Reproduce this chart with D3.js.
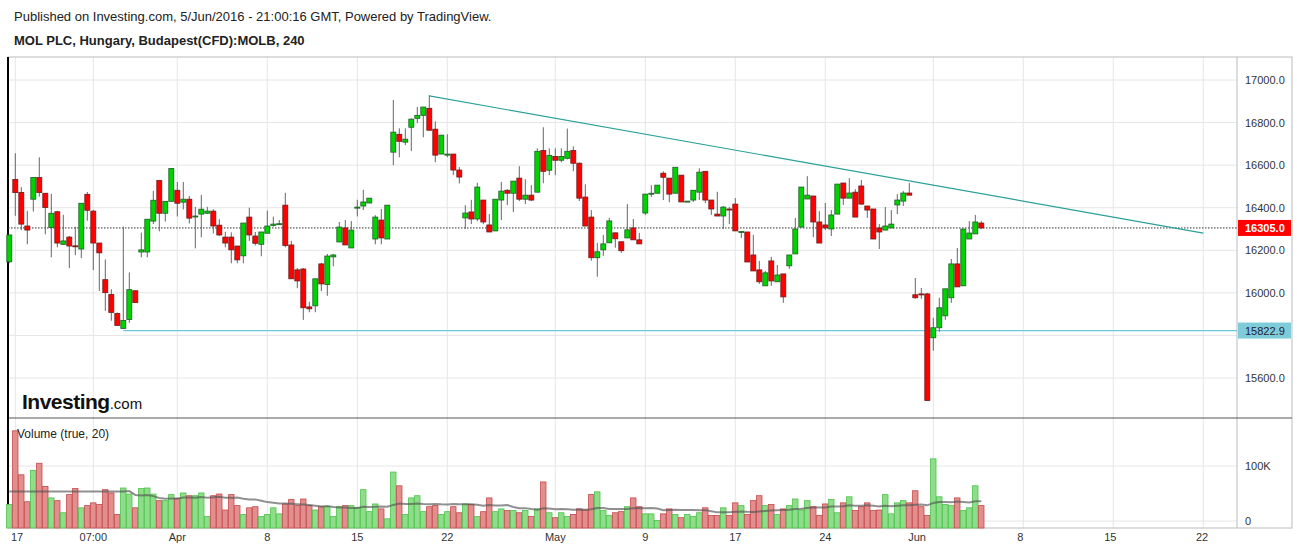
<!DOCTYPE html>
<html><head><meta charset="utf-8">
<script src="https://cdn.jsdelivr.net/npm/d3@7"></script>
<style>body{margin:0;background:#fff;font-family:"Liberation Sans",Arial,sans-serif}</style>
</head><body><svg id="c" width="1297" height="552"></svg>
<script>
const opens=[16146,16533,16472,16314,16440,16542,16468,16307,16381,16228,16262,16221,16206,16463,16384,16234,16062,15992,15903,15833,15875,16010,16192,16192,16337,16528,16374,16430,16482,16426,16440,16358,16370,16374,16384,16318,16262,16262,16220,16174,16356,16267,16228,16280,16317,16323,16412,16225,16108,16112,15934,15939,16136,16039,16169,16239,16305,16211,16398,16408,16422,16253,16342,16253,16661,16745,16708,16778,16820,16834,16867,16769,16652,16647,16652,16577,16352,16380,16347,16436,16319,16291,16436,16482,16468,16539,16440,16459,16473,16669,16576,16641,16623,16632,16669,16609,16450,16356,16165,16202,16235,16282,16240,16258,16305,16249,16375,16464,16468,16562,16539,16468,16553,16427,16436,16473,16571,16436,16370,16361,16394,16417,16286,16286,16178,16108,16033,16150,16052,16089,16127,16183,16309,16441,16455,16333,16319,16300,16370,16516,16445,16473,16502,16408,16394,16305,16295,16305,16413,16431,16469,15991,15995,15995,15789,15836,15892,15977,16136,16033,16253,16277,16328];
const closes=[16272,16471,16323,16295,16542,16471,16401,16374,16234,16244,16220,16219,16421,16388,16234,16188,16001,15908,15847,15870,16015,15954,16202,16346,16435,16374,16430,16584,16421,16440,16351,16361,16393,16384,16314,16272,16234,16202,16155,16328,16272,16233,16286,16314,16323,16325,16223,16066,16056,15930,15925,16066,16042,16173,16178,16309,16225,16295,16403,16427,16445,16356,16258,16412,16755,16712,16722,16816,16834,16873,16764,16647,16741,16652,16577,16544,16375,16347,16497,16333,16286,16440,16478,16468,16525,16440,16459,16436,16665,16571,16646,16623,16641,16665,16609,16445,16314,16165,16193,16230,16338,16254,16198,16296,16249,16230,16464,16468,16506,16543,16464,16590,16427,16431,16482,16567,16436,16394,16361,16403,16389,16291,16288,16145,16103,16052,16094,16056,16084,15981,16178,16300,16497,16459,16333,16234,16305,16366,16511,16445,16469,16356,16417,16389,16253,16286,16314,16323,16436,16469,16459,15977,15993,15494,15836,15930,16019,16136,16028,16300,16281,16333,16305];
const highs=[16272,16656,16497,16385,16542,16637,16468,16465,16385,16367,16267,16311,16421,16474,16390,16234,16157,16017,15908,16311,16096,16010,16283,16346,16479,16528,16430,16584,16521,16521,16455,16404,16460,16404,16393,16346,16287,16284,16220,16328,16400,16286,16286,16386,16358,16342,16470,16244,16117,16117,15958,16066,16141,16183,16183,16333,16342,16337,16437,16484,16445,16365,16394,16412,16906,16773,16773,16820,16873,16873,16928,16806,16741,16745,16652,16591,16412,16437,16517,16436,16370,16440,16521,16487,16525,16595,16534,16506,16679,16778,16679,16679,16679,16772,16688,16613,16510,16389,16235,16272,16352,16282,16240,16417,16347,16282,16464,16506,16506,16571,16539,16590,16553,16431,16482,16585,16571,16436,16475,16408,16403,16445,16291,16286,16272,16150,16103,16169,16131,16089,16178,16352,16497,16548,16455,16384,16422,16389,16511,16516,16539,16487,16530,16408,16394,16323,16403,16389,16464,16478,16516,16070,16023,16000,15883,15977,16019,16159,16211,16300,16337,16366,16337];
const lows=[16140,16362,16295,16228,16382,16452,16275,16167,16214,16225,16116,16177,16163,16339,16107,16009,15915,15869,15847,15833,15859,15954,16167,16167,16323,16289,16335,16430,16359,16392,16326,16209,16261,16370,16279,16267,16214,16139,16139,16139,16244,16223,16172,16280,16311,16320,16214,16066,16022,15873,15909,15909,16008,15986,16125,16239,16225,16211,16359,16389,16422,16228,16228,16253,16600,16637,16694,16666,16797,16731,16764,16614,16652,16637,16553,16514,16300,16323,16337,16323,16286,16291,16342,16412,16380,16431,16417,16431,16473,16515,16553,16553,16613,16627,16571,16431,16314,16151,16076,16174,16235,16212,16188,16258,16249,16230,16366,16450,16468,16436,16426,16468,16427,16427,16427,16436,16422,16366,16361,16300,16323,16291,16258,16145,16103,16042,16033,16033,16052,15953,16113,16183,16309,16441,16262,16234,16295,16267,16370,16413,16445,16356,16413,16352,16253,16206,16295,16305,16370,16408,16459,15972,15972,15494,15728,15817,15873,15953,16028,16033,16253,16277,16300];
const volumes=[30,164,84,35,92,105,63,42,37,15,48,59,24,28,33,30,57,51,12,60,49,24,59,60,49,37,37,48,41,51,46,46,51,8,46,49,20,48,28,12,24,26,8,12,24,13,31,39,28,40,28,20,26,26,8,26,28,28,24,57,17,31,22,4,89,64,12,42,46,17,26,28,12,17,26,15,31,30,8,17,42,17,22,19,19,15,19,8,22,71,15,6,15,8,12,22,20,48,53,19,10,15,17,26,42,26,13,13,1,13,22,12,6,12,8,15,24,10,10,24,10,33,28,12,37,46,28,30,12,22,28,40,20,37,26,10,31,39,15,33,44,19,26,33,19,20,48,13,33,37,33,55,26,10,113,44,30,28,42,19,24,64,28];
const gridIdx=[1,14,28,43,58,73,91,106,121,136,154,169,184,199];
const tickIdx=[1.3,14,28,43,58,73,91,106,121,136,151.3,168.5,183.5,198.8];
const tickLabels=["17","07:00","Apr","8","15","22","May","9","17","24","Jun","8","15","22"];
const priceTicks=[15600,15800,16000,16200,16400,16600,16800,17000];
const volTicks=[0,100];
const lastPrice=16305.0, supportLevel=15822.9;
const trendFrom=[70,16925], trendTo=[199,16281];

const svg=d3.select("#c");
const L=8,R=1237,T=57,MB=418,VB=528;
const x=d3.scaleLinear().domain([0,162]).range([9.3,981.3]);
const y=d3.scaleLinear().domain([15600,17000]).range([378,80]);
const yv=d3.scaleLinear().domain([0,100]).range([521,466]);

svg.append("text").attr("x",14).attr("y",21).attr("font-size",13).attr("fill","#222").text("Published on Investing.com, 5/Jun/2016 - 21:00:16 GMT, Powered by TradingView.");
svg.append("text").attr("x",14).attr("y",45).attr("font-size",13).attr("font-weight","bold").attr("fill","#222").text("MOL PLC, Hungary, Budapest(CFD):MOLB, 240");

const g=svg.append("g");
g.selectAll(".vg").data(gridIdx).join("line").attr("x1",d=>x(d)).attr("x2",d=>x(d)).attr("y1",T).attr("y2",VB).attr("stroke","#e6e6e6");
g.selectAll(".hg").data(priceTicks).join("line").attr("x1",L).attr("x2",R).attr("y1",d=>y(d)).attr("y2",d=>y(d)).attr("stroke","#e6e6e6");
g.selectAll(".hv").data(volTicks).join("line").attr("x1",L).attr("x2",R).attr("y1",d=>yv(d)).attr("y2",d=>yv(d)).attr("stroke","#e6e6e6");
g.append("rect").attr("x",L).attr("y",T).attr("width",1292-L).attr("height",VB-T).attr("fill","none").attr("stroke","#bbb");
g.append("line").attr("x1",R).attr("x2",R).attr("y1",T).attr("y2",VB).attr("stroke","#bbb");
g.append("line").attr("x1",L).attr("x2",1292).attr("y1",MB).attr("y2",MB).attr("stroke","#555");
g.append("line").attr("x1",L).attr("x2",L).attr("y1",T).attr("y2",VB).attr("stroke","#000").attr("stroke-width",2);

const lg=svg.append("text").attr("x",22).attr("y",409).attr("fill","#111");
lg.append("tspan").attr("font-size",21).attr("font-weight","bold").attr("letter-spacing",-0.5).text("Investing");
lg.append("tspan").attr("font-size",15).text(".com");

g.append("line").attr("x1",x(19)).attr("x2",R).attr("y1",y(supportLevel)).attr("y2",y(supportLevel)).attr("stroke","#6cc8d8").attr("stroke-width",1.2);
g.append("line").attr("x1",L).attr("x2",R).attr("y1",y(lastPrice)).attr("y2",y(lastPrice)).attr("stroke","#333").attr("stroke-dasharray","1.5,1.5");
g.append("line").attr("x1",x(trendFrom[0])).attr("y1",y(trendFrom[1])).attr("x2",x(trendTo[0])).attr("y2",y(trendTo[1])).attr("stroke","#2aa198").attr("stroke-width",1.2);

const idx=d3.range(opens.length);
const up=i=>closes[i]>=opens[i];
g.selectAll(".wk").data(idx).join("line").attr("x1",i=>x(i)).attr("x2",i=>x(i)).attr("y1",i=>y(highs[i])).attr("y2",i=>y(lows[i])).attr("stroke","#666");
g.selectAll(".bd").data(idx).join("rect").attr("x",i=>x(i)-2.5).attr("width",5)
 .attr("y",i=>y(Math.max(opens[i],closes[i]))).attr("height",i=>Math.max(1,Math.abs(y(opens[i])-y(closes[i]))))
 .attr("fill",i=>up(i)?"#00d200":"#ff0000").attr("stroke",i=>up(i)?"#1f5e2a":"#6b1e1e").attr("stroke-width",0.8);

g.selectAll(".vb").data(idx).join("rect").attr("x",i=>x(i)-2.7).attr("width",5.4)
 .attr("y",i=>yv(volumes[i])).attr("height",i=>yv(0)+7-yv(volumes[i]))
 .attr("fill",i=>up(i)?"#8fdc8a":"#e08e8e").attr("stroke",i=>up(i)?"#4cc44a":"#c84a4a").attr("stroke-width",0.8);
const ma=idx.map(i=>{const s=volumes.slice(Math.max(0,i-19),Math.max(i+1,20));return d3.mean(s);});
g.append("path").attr("d",d3.line().x(i=>x(i)).y(i=>yv(ma[i]))(idx)).attr("fill","none").attr("stroke","#555").attr("stroke-width",2).attr("opacity",0.65);
svg.append("text").attr("x",17).attr("y",438).attr("font-size",12).attr("fill","#222").text("Volume (true, 20)");

svg.selectAll(".pt").data(priceTicks.filter(d=>Math.abs(y(d)-y(supportLevel))>12)).join("text").attr("x",1245).attr("y",d=>y(d)+4).attr("font-size",11).attr("fill","#333").text(d=>d.toFixed(1));
svg.selectAll(".vt").data(volTicks).join("text").attr("x",1245).attr("y",d=>yv(d)+4).attr("font-size",11).attr("fill","#333").text(d=>d?d+"K":"0");
svg.selectAll(".xt").data(tickIdx).join("text").attr("x",d=>x(d)).attr("y",541).attr("text-anchor","middle").attr("font-size",11).attr("fill","#333").text((d,i)=>tickLabels[i]);

function tag(v,bg,fg,bold){const yy=y(v);
 svg.append("rect").attr("x",R+1).attr("y",yy-8).attr("width",53).attr("height",16).attr("fill",bg);
 svg.append("text").attr("x",1245).attr("y",yy+4).attr("font-size",11).attr("font-weight",bold?"bold":"normal").attr("fill",fg).text(v.toFixed(1));}
tag(supportLevel,"#7ecbd9","#223",false);
tag(lastPrice,"#ff0000","#fff",true);
</script></body></html>
